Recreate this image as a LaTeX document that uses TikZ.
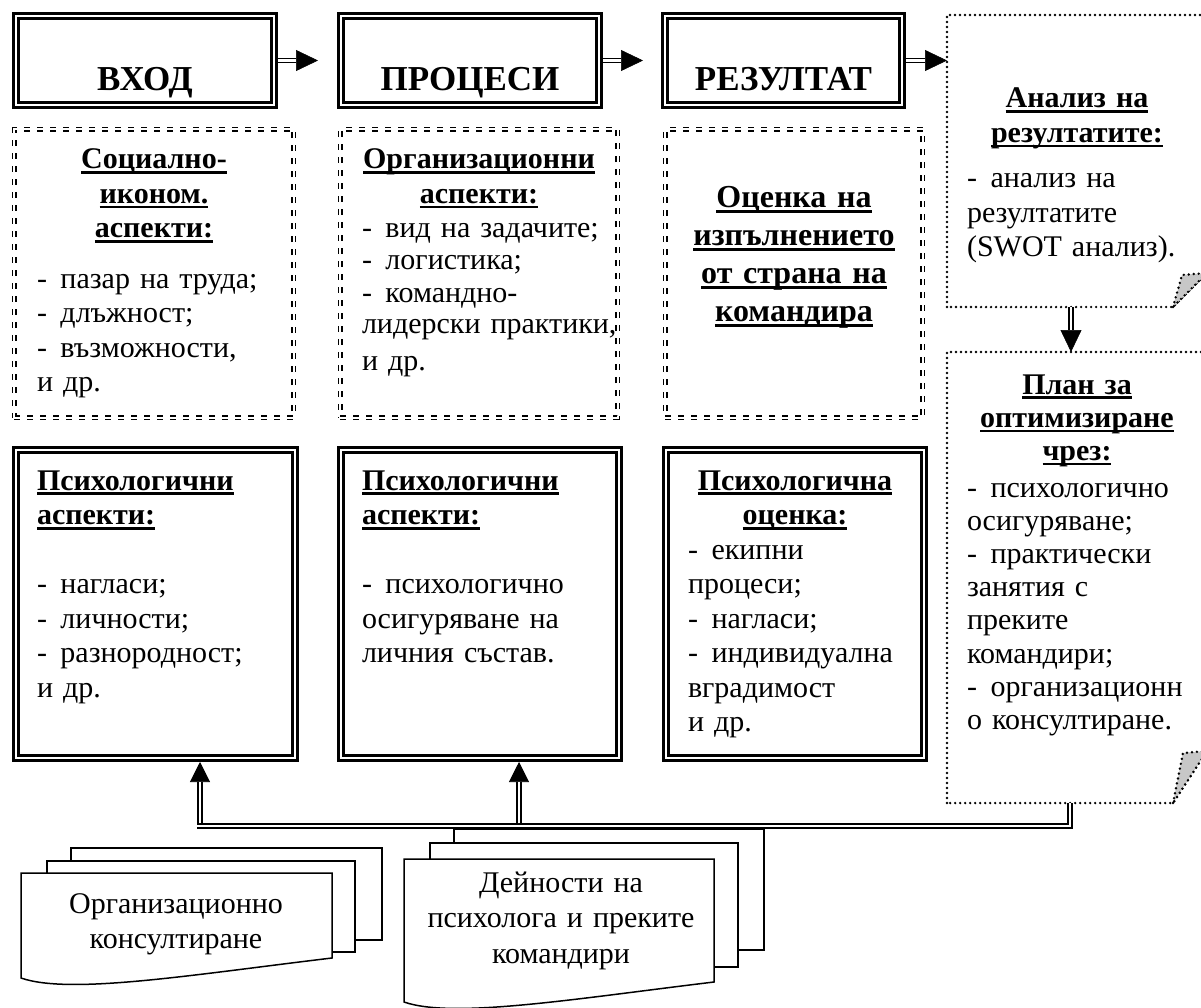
\documentclass[tikz,border=0pt]{standalone}
\usepackage{fontspec}
\setmainfont{Liberation Serif}
\usetikzlibrary{arrows.meta,calc}
\newsavebox\hubox
\newcommand{\hu}[1]{\leavevmode\sbox\hubox{#1}\rlap{\rule[-5pt]{\wd\hubox}{2.6pt}}\usebox\hubox}
\newcommand{\dsh}{-\hspace{13.5pt}}
\begin{document}
\begin{tikzpicture}[x=1pt,y=-1pt,
 hdrbox/.style={draw, double, line width=2.6pt, double distance=2.4pt, inner sep=0pt, outer sep=0pt},
 dashbox/.style={draw, double, line width=1.7pt, double distance=1.8pt, dash pattern=on 6pt off 7pt, inner sep=0pt, outer sep=0pt},
 nosep/.style={inner sep=0pt, outer sep=0pt},
 dotln/.style={line width=2.7pt, dash pattern=on 0pt off 5pt, line cap=round},
 foldst/.style={fill=black!22, dotln},
 shaftst/.style={double, line width=1.5pt, double distance=2.5pt},
 tiph/.style={line width=0.6pt, -{Triangle[length=22pt,width=21pt]}},
 tipv/.style={line width=0.6pt, -{Triangle[length=20pt,width=20pt]}},
 docpage/.style={draw, fill=white, line width=1.5pt, line join=miter},
 hdrtxt/.style={nosep, anchor=base, font=\bfseries\fontsize{35}{40}\selectfont},
 headtxt/.style={nosep, anchor=north, align=center, font=\bfseries\fontsize{30}{34.5}\selectfont},
 bodytxt/.style={nosep, anchor=north west, align=left, font=\fontsize{30}{34.5}\selectfont},
 doctxt/.style={nosep, anchor=north, align=center, font=\fontsize{30}{35.5}\selectfont},
]
\useasboundingbox (0,0) rectangle (1201,1008);
\clip (0,0) rectangle (1201,1008);

% header boxes
\node[hdrbox, minimum width=258pt, minimum height=89pt] (vhod) at (145,60.5) {};
\node[hdrbox, minimum width=258pt, minimum height=89pt] (proc) at (470,60.5) {};
\node[hdrbox, minimum width=237pt, minimum height=89pt] (rez) at (783.5,60.5) {};
\node[hdrtxt] (vhodt) at (145,90.5) {ВХОД};
\node[hdrtxt] (proct) at (470,90.5) {ПРОЦЕСИ};
\node[hdrtxt] (rezt) at (783.5,90.5) {РЕЗУЛТАТ};

% dashed boxes
\node[dashbox, minimum width=279.4pt, minimum height=288.4pt] (soc) at (154,273.5) {};
\node[dashbox, minimum width=277.4pt, minimum height=288.4pt] (org) at (479,273.5) {};
\node[dashbox, minimum width=257.4pt, minimum height=288.4pt] (ocen) at (794,273.5) {};

\node[headtxt, text width=270pt] (soch) at (154,144.85) {\strut\hu{Социално-}\\\hu{иконом.}\\\hu{аспекти:}};
\node[bodytxt, text width=255pt] (socb) at (37,263.85) {\strut\dsh пазар на труда;\\\dsh длъжност;\\\dsh възможности,\\и др.};

\node[headtxt, text width=270pt] (orgh) at (479,144.85) {\strut\hu{Организационни}\\\hu{аспекти:}};
\node[bodytxt, text width=255pt, font=\fontsize{30}{32}\selectfont] (orgb) at (362,215.6) {\strut\dsh вид на задачите;\\\dsh логистика;\\\dsh командно-\\лидерски практики,\\[4pt]и др.};

\node[headtxt, text width=255pt, font=\bfseries\fontsize{32}{38}\selectfont] (ocenh) at (794,181.4) {\strut\hu{Оценка на}\\\hu{изпълнението}\\\hu{от страна на}\\\hu{командира}};

% psychological boxes
\node[hdrbox, minimum width=279pt, minimum height=308pt] (psy1) at (155.5,604) {};
\node[hdrbox, minimum width=278pt, minimum height=308pt] (psy2) at (480,604) {};
\node[hdrbox, minimum width=258pt, minimum height=308pt] (psy3) at (795,604) {};

\node[bodytxt, text width=260pt] (psy1t) at (37,465.85) {\strut\textbf{\hu{Психологични}}\\\textbf{\hu{аспекти:}}\\[34.5pt]\dsh нагласи;\\\dsh личности;\\\dsh разнородност;\\и др.};
\node[bodytxt, text width=255pt] (psy2t) at (362,465.85) {\strut\textbf{\hu{Психологични}}\\\textbf{\hu{аспекти:}}\\[34.5pt]\dsh психологично\\осигуряване на\\личния състав.};
\node[headtxt, text width=250pt] (psy3h) at (795,465.85) {\strut\hu{Психологична}\\\hu{оценка:}};
\node[bodytxt, text width=230pt] (psy3b) at (688,534.85) {\strut\dsh екипни\\процеси;\\\dsh нагласи;\\\dsh индивидуална\\вградимост\\и др.};

% dotted folded boxes
\node[nosep, minimum width=260pt, minimum height=292pt] (analiz) at (1077,161) {};
\node[nosep, minimum width=260pt, minimum height=451pt] (plan) at (1077,577.5) {};
\draw[dotln] (analiz.south west) -- (analiz.north west) -- (analiz.north east) -- ([yshift=34pt]analiz.south east) -- ([xshift=-34pt]analiz.south east) -- cycle;
\filldraw[foldst] ([xshift=-34pt]analiz.south east) -- ([xshift=-25pt,yshift=32pt]analiz.south east) -- ([yshift=34pt]analiz.south east) -- cycle;
\draw[dotln] (plan.south west) -- (plan.north west) -- (plan.north east) -- ([yshift=52pt]plan.south east) -- ([xshift=-34pt]plan.south east) -- cycle;
\filldraw[foldst] ([xshift=-34pt]plan.south east) -- ([xshift=-24pt,yshift=50pt]plan.south east) -- ([yshift=52pt]plan.south east) -- cycle;

\node[headtxt, text width=250pt] (analizh) at (1077,83.85) {\strut\hu{Анализ на}\\\hu{резултатите:}};
\node[bodytxt, text width=230pt] (analizb) at (967,163.85) {\strut\dsh анализ на\\резултатите\\(SWOT анализ).};
\node[headtxt, text width=250pt, font=\bfseries\fontsize{30}{33.2}\selectfont] (planh) at (1077,370.76) {\strut\hu{План за}\\\hu{оптимизиране}\\\hu{чрез:}};
\node[bodytxt, text width=232pt, font=\fontsize{30}{33.2}\selectfont] (planb) at (967,473.76) {\strut\dsh психологично\\осигуряване;\\\dsh практически\\занятия с\\преките\\командири;\\\dsh организационн\\о консултиране.};

% multi-document shapes
\draw[docpage] (71,848) -- (382,848) -- (382,940) -- (71,940) -- cycle;
\draw[docpage] (47,861) -- (355,861) -- (355,952) -- (47,952) -- cycle;
\draw[docpage] (21,873) -- (332,873) -- (332,958) .. controls (190,975) and (70,995) .. (21,978) -- cycle;
\draw[docpage] (454,829) -- (764,829) -- (764,950) -- (454,950) -- cycle;
\draw[docpage] (430,843) -- (738,843) -- (738,967) -- (430,967) -- cycle;
\draw[docpage] (404,859) -- (714,859) -- (714,982) .. controls (573,999) and (453,1019) .. (404,1002) -- cycle;
\node[doctxt, text width=300pt] (orgk) at (176,888.15) {\strut Организационно\\консултиране};
\node[doctxt, text width=300pt] (deyn) at (561,867.15) {\strut Дейности на\\психолога и преките\\командири};

% connectors
\coordinate (t1) at (318,60.5);
\coordinate (t2) at (643,60.5);
\draw[tiph, shorten <=4pt] (vhod.east) -- (t1);
\draw[shaftst, shorten <=4pt, shorten >=22pt] (vhod.east) -- (t1);
\draw[tiph, shorten <=4pt] (proc.east) -- (t2);
\draw[shaftst, shorten <=4pt, shorten >=22pt] (proc.east) -- (t2);
\draw[tiph, shorten <=4pt] (rez.east) -- (rez.east -| analiz.west);
\draw[shaftst, shorten <=4pt, shorten >=22pt] (rez.east) -- (rez.east -| analiz.west);
\draw[tiph] ([xshift=-6pt]analiz.south) -- ([xshift=-6pt]plan.north);
\draw[shaftst, shorten >=22pt] ([xshift=-6pt]analiz.south) -- ([xshift=-6pt]plan.north);

\coordinate (jl) at (200,826);
\coordinate (jm) at (519,826);
\draw[shaftst] ([xshift=-7pt]plan.south) |- ([xshift=-2.7pt]jl);
\draw[tipv, shorten <=2.7pt, shorten >=4pt] (jl) -- (jl |- psy1.south);
\draw[shaftst, shorten <=2.7pt, shorten >=24pt] (jl) -- (jl |- psy1.south);
\draw[tipv, shorten <=2.7pt, shorten >=4pt] (jm) -- (jm |- psy2.south);
\draw[shaftst, shorten <=2.7pt, shorten >=24pt] (jm) -- (jm |- psy2.south);
\end{tikzpicture}
\end{document}
